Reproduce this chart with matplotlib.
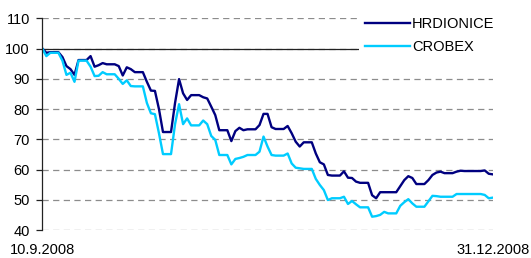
"""HRDIONICE vs CROBEX, indexed to 100 on 10.9.2008."""
import matplotlib

matplotlib.use("Agg")
import matplotlib.pyplot as plt
import pandas as pd

plt.rcParams["font.family"] = ["Liberation Sans", "DejaVu Sans"]

START, END = "2008-09-10", "2008-12-31"

# daily values (weekend/holiday days repeat the last close), one row per week
hrdionice = [
    100.0, 98.6, 98.8, 98.8, 98.8,
    97.2, 94.2, 93.2, 91.3, 96.2, 96.2, 96.2,
    97.5, 94.0, 94.5, 95.2, 94.8, 94.8, 94.8,
    94.2, 91.1, 93.8, 93.2, 92.2, 92.2, 92.2,
    89.0, 86.1, 86.0, 80.0, 72.4, 72.4, 72.4,
    82.0, 89.9, 85.2, 83.0, 84.6, 84.6, 84.6,
    83.9, 83.5, 80.8, 78.0, 73.0, 73.0, 73.0,
    69.4, 72.7, 73.8, 73.0, 73.3, 73.3, 73.3,
    74.7, 78.4, 78.4, 74.0, 73.4, 73.4, 73.4,
    74.4, 72.0, 69.2, 67.6, 69.0, 69.0, 69.0,
    65.3, 62.4, 61.7, 58.2, 58.0, 58.0, 58.0,
    59.4, 57.3, 57.2, 56.0, 55.6, 55.6, 55.6,
    51.5, 50.5, 52.5, 52.5, 52.5, 52.5, 52.5,
    54.5, 56.5, 57.8, 57.2, 55.2, 55.2, 55.2,
    56.5, 58.2, 59.0, 59.3, 58.8, 58.8, 58.8,
    59.3, 59.6, 59.5, 59.5, 59.5, 59.5, 59.5,
    59.7, 58.6, 58.4,
]
crobex = [
    100.0, 97.5, 98.6, 98.6, 98.6,
    96.0, 91.3, 92.0, 89.0, 96.0, 96.0, 96.0,
    94.0, 90.9, 91.0, 92.2, 91.5, 91.5, 91.5,
    90.0, 88.3, 89.5, 87.6, 87.5, 87.5, 87.5,
    82.0, 78.6, 78.3, 72.0, 65.1, 65.1, 65.1,
    75.0, 81.6, 75.0, 76.9, 74.6, 74.6, 74.6,
    76.2, 75.0, 71.1, 69.8, 64.8, 64.8, 64.8,
    61.7, 63.5, 63.8, 64.2, 64.8, 64.8, 64.8,
    65.9, 70.9, 67.6, 64.8, 64.6, 64.6, 64.6,
    65.3, 62.0, 60.6, 60.4, 60.2, 60.2, 60.2,
    56.9, 54.9, 53.2, 49.9, 50.5, 50.5, 50.5,
    51.0, 48.6, 49.6, 48.5, 47.5, 47.5, 47.5,
    44.4, 44.6, 45.0, 46.0, 45.5, 45.5, 45.5,
    48.0, 49.2, 50.2, 48.8, 47.7, 47.7, 47.7,
    49.5, 51.3, 51.2, 51.0, 51.0, 51.0, 51.0,
    51.9, 51.9, 51.9, 51.9, 51.9, 51.9, 51.9,
    51.6, 50.5, 50.7,
]
y_ticks = [40, 50, 60, 70, 80, 90, 100, 110]
x_labels = ["10.9.2008", "31.12.2008"]

dates = pd.date_range(START, END, freq="D")

fig = plt.figure(figsize=(5.31, 2.58), dpi=100)
ax = fig.add_axes([0.0797, 0.1085, 0.8483, 0.8205])

ax.set_ylim(40, 110)
ax.set_xlim(dates[0], dates[-1])
ax.set_yticks(y_ticks)
for v in y_ticks:
    ax.axhline(v, color="#8c8c8c", lw=0.9, ls=(0, (5, 3.5)), zorder=1)
ax.axhline(100, color="#222222", lw=0.9, zorder=2)

ax.plot(dates, hrdionice, color="#000080", lw=1.7, label="HRDIONICE", zorder=3)
ax.plot(dates, crobex, color="#00CCFF", lw=1.7, label="CROBEX", zorder=3)

ax.set_xticks([dates[0], dates[-1]])
ax.set_xticklabels(x_labels)
ax.tick_params(axis="x", length=0, pad=9.5, labelsize=10.5)
ax.tick_params(axis="y", length=4, width=0.9, color="#222222", labelsize=10.5, pad=5)
for side in ("top", "right", "bottom"):
    ax.spines[side].set_visible(False)
ax.spines["left"].set_color("#222222")
ax.spines["left"].set_linewidth(0.9)
ax.spines["left"].set_zorder(4)

leg = ax.legend(
    loc="upper right", bbox_to_anchor=(0.942, 0.957), bbox_transform=fig.transFigure,
    fontsize=10.5, frameon=True, handlelength=3.1, handletextpad=0.12,
    labelspacing=0.6, borderpad=0.4, borderaxespad=0, fancybox=False,
)
leg.get_frame().set_facecolor("white")
leg.get_frame().set_edgecolor("none")
leg.get_frame().set_alpha(1)
leg.set_zorder(5)

fig.savefig("out.png", dpi=100)
